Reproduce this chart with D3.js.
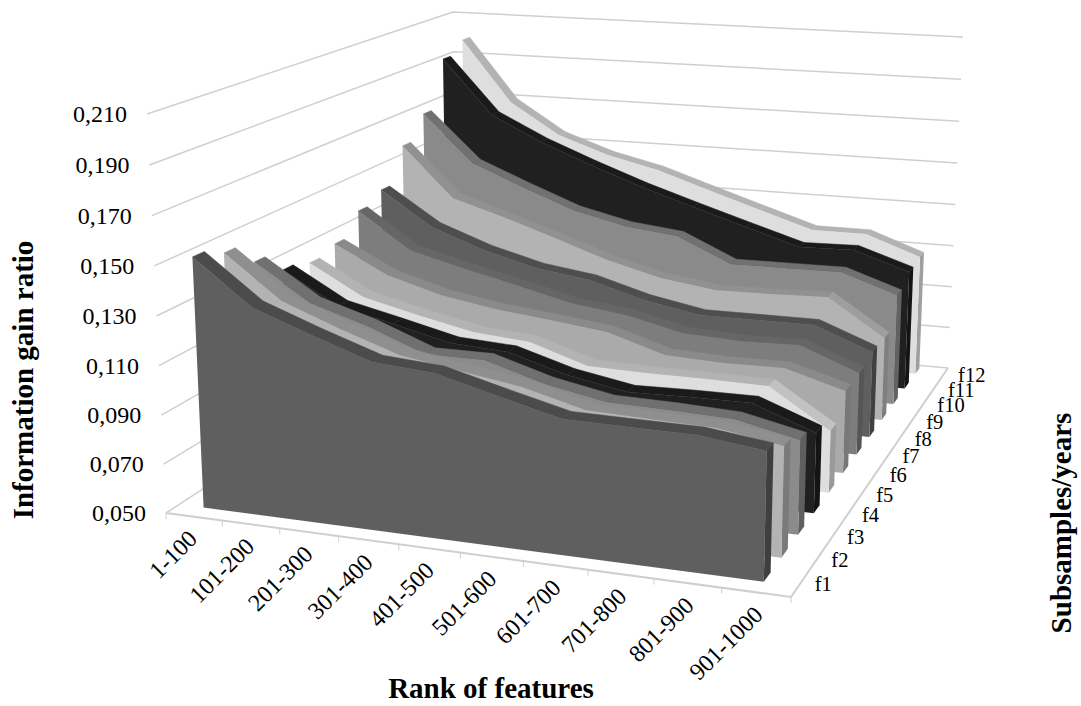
<!DOCTYPE html>
<html><head><meta charset="utf-8">
<script src="https://cdnjs.cloudflare.com/ajax/libs/d3/7.8.5/d3.min.js"></script>
<style>html,body{margin:0;background:#fff}svg{display:block}text{font-family:"Liberation Serif",serif;fill:#000}</style>
</head><body><svg id="c" width="1081" height="706"></svg>
<script>
// Information gain ratio by feature rank, one ribbon per yearly subsample.
const categories=["1-100","101-200","201-300","301-400","401-500","501-600","601-700","701-800","801-900","901-1000"];
const seriesNames=["f1","f2","f3","f4","f5","f6","f7","f8","f9","f10","f11","f12"];
const valueTicks=[0.05,0.07,0.09,0.11,0.13,0.15,0.17,0.19,0.21];
const f1=[.1521,.1343,.1256,.1175,.1158,.1095,.1034,.1032,.1031,.1000];
const f2=[.1479,.1304,.1214,.1133,.1094,.1057,.0992,.0985,.0979,.0938];
const f3=[.1383,.1233,.1160,.1068,.1069,.0996,.0949,.0945,.0936,.0881];
const f4=[.1290,.1157,.1103,.1046,.1033,.0961,.0917,.0923,.0925,.0830];
const f5=[.1262,.1134,.1077,.1027,.1008,.0929,.0925,.0925,.0922,.0760];
const f6=[.1290,.1171,.1103,.1063,.1038,.1009,.0932,.0923,.0927,.0854];
const f7=[.1385,.1226,.1165,.1109,.1050,.1019,.0962,.0950,.0957,.0859];
const f8=[.1431,.1277,.1190,.1127,.1093,.1023,.0977,.0978,.0979,.0882];
const f9=[.1591,.1361,.1289,.1209,.1126,.1063,.1029,.1033,.1041,.0877];
const f10=[.1700,.1479,.1381,.1288,.1231,.1203,.1091,.1093,.1095,.1010];
const f11=[.1927,.1667,.1551,.1455,.1366,.1287,.1210,.1134,.1140,.1057];
const f12=[.1985,.1690,.1540,.1457,.1400,.1319,.1239,.1160,.1160,.1069];
const seriesValues=[f1,f2,f3,f4,f5,f6,f7,f8,f9,f10,f11,f12];
const frontFill=["#5f5f5f","#b3b3b3","#8b8b8b","#202020","#dedede","#aaaaaa","#7d7d7d","#5f5f5f","#b3b3b3","#8a8a8a","#202020","#dedede"];
const topFill=["#4b4b4b","#8f8f8f","#707070","#1a1a1a","#b3b3b3","#8a8a8a","#666666","#4e4e4e","#919191","#717171","#1a1a1a","#b3b3b3"];
const sideFill=["#3f3f3f","#7a7a7a","#5f5f5f","#141414","#9a9a9a","#787878","#555555","#404040","#7f7f7f","#626262","#141414","#9f9f9f"];

// Perspective map from the unit square onto a quadrilateral.
function homography(p){const [p0,p1,p2,p3]=p;
 const dx1=p1[0]-p2[0],dx2=p3[0]-p2[0],sx=p0[0]-p1[0]+p2[0]-p3[0];
 const dy1=p1[1]-p2[1],dy2=p3[1]-p2[1],sy=p0[1]-p1[1]+p2[1]-p3[1];
 const den=dx1*dy2-dx2*dy1,g=(sx*dy2-dx2*sy)/den,h=(dx1*sy-sx*dy1)/den;
 const a=p1[0]-p0[0]+g*p1[0],b=p3[0]-p0[0]+h*p3[0],d=p1[1]-p0[1]+g*p1[1],e=p3[1]-p0[1]+h*p3[1];
 return (u,v)=>{const w=g*u+h*v+1;return [(a*u+b*v+p0[0])/w,(d*u+e*v+p0[1])/w];};}
const floorH=homography([[166,513],[791,597],[948,368],[457.5,323]]);
const roofH=homography([[147,114],[803,165],[963,37],[453,12]]);
const yScale=d3.scaleLinear().domain([0.05,0.21]).range([0,1]);
const warp=t=>t/(1.025-0.025*t);
function project(u,w,val){const f=floorH(u,w),r=roofH(u,w),t=warp(yScale(val));return [f[0]+(r[0]-f[0])*t,f[1]+(r[1]-f[1])*t];}
const xCentre=d3.scalePoint().domain(categories).range([0.044,0.95]);
const zBand=d3.scaleBand().domain(seriesNames).range([0,1]);
const zFront=s=>zBand(s)+zBand.bandwidth()*0.42, zBack=s=>zBand(s)+zBand.bandwidth()*0.8;

const svg=d3.select("#c");
const line=d3.line();
const walls=svg.append("g").attr("fill","none").attr("stroke","#cfcfcf").attr("stroke-width",1.5);
valueTicks.forEach(v=>{walls.append("path").attr("d",line([project(0,0,v),project(0,1,v),project(1,1,v)]));});
walls.append("path").attr("d",line([project(0,0,.05),project(1,0,.05),project(1,1,.05)])).attr("stroke-width",2);
d3.range(0,11).forEach(k=>{const p=project(k/10,0,.05);walls.append("line").attr("x1",p[0]).attr("y1",p[1]).attr("x2",p[0]).attr("y2",p[1]+6).attr("stroke-width",1);});

// Ribbons are painted back to front: top facets, end cap, then the front face.
seriesNames.slice().reverse().forEach(s=>{
 const i=seriesNames.indexOf(s),g=svg.append("g"),vals=seriesValues[i];
 const c=categories.map((cat,j)=>({u:xCentre(cat),v:vals[j]}));
 c.slice(0,-1).forEach((a,j)=>{const b=c[j+1];
  const steep=j===c.length-2?Math.max(0,(a.v-b.v-0.014))*100:0;
  const col=d3.color(topFill[i]).brighter(steep).formatHex();
  g.append("path").attr("d",line([project(a.u,zFront(s),a.v),project(b.u,zFront(s),b.v),project(b.u,zBack(s),b.v),project(a.u,zBack(s),a.v)])+"Z").attr("fill",col).attr("stroke",col).attr("stroke-width",.5);});
 const l=c[c.length-1];
 g.append("path").attr("d",line([project(l.u,zFront(s),.05),project(l.u,zBack(s),.05),project(l.u,zBack(s),l.v),project(l.u,zFront(s),l.v)])+"Z").attr("fill",sideFill[i]);
 const f=c.map(a=>project(a.u,zFront(s),a.v));
 g.append("path").attr("d",line([...f,project(l.u,zFront(s),.05),project(c[0].u,zFront(s),.05)])+"Z").attr("fill",frontFill[i]);
});

const fmt=v=>v.toFixed(3).replace(".",",");
valueTicks.forEach(v=>{const p=project(0,0,v);svg.append("text").attr("x",p[0]-20).attr("y",p[1]+8).attr("text-anchor","end").attr("font-size",24).text(fmt(v));});
categories.forEach(c=>{const p=project(xCentre(c),0,.05);svg.append("text").attr("transform",`translate(${p[0]+8},${p[1]+24}) rotate(-45)`).attr("text-anchor","end").attr("font-size",24).text(c);});
seriesNames.forEach(s=>{const p=project(1,zBand(s)+zBand.bandwidth()/2,.05);svg.append("text").attr("x",p[0]+15).attr("y",p[1]+7).attr("font-size",20.5).text(s);});
const title=(x,y,r,t)=>svg.append("text").attr("transform",`translate(${x},${y}) rotate(${r})`).attr("text-anchor","middle").attr("font-size",29).attr("font-weight","bold").text(t);
title(33,380,-90,"Information gain ratio");title(491,698,0,"Rank of features");title(1071,523,-90,"Subsamples/years");
</script></body></html>
